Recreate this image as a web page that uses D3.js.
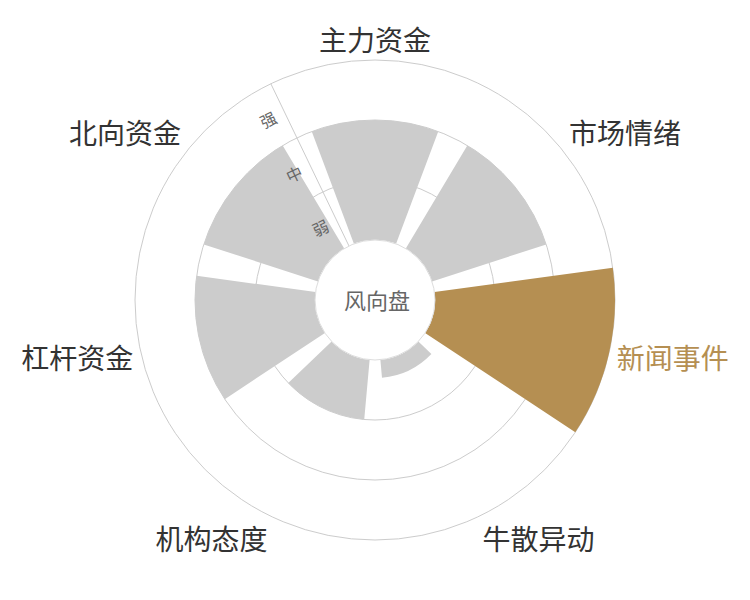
<!DOCTYPE html>
<html><head><meta charset="utf-8">
<script src="https://cdn.jsdelivr.net/npm/d3@7"></script>
<style>
body{margin:0;background:#fff;}
svg{display:block;}
text{font-family:"Noto Sans CJK SC","Noto Sans",sans-serif;}
</style>
</head><body>
<svg id="chart" width="750" height="600"></svg>
<script>
// ---- data ----
const categories = ["主力资金","市场情绪","新闻事件","牛散异动","机构态度","杠杆资金","北向资金"];
const values = [2, 2, 3, 0.3, 1, 2, 2];
const levels = ["弱","中","强"];
const highlight = "新闻事件";
const centerLabel = "风向盘";

// ---- layout ----
const cx = 375, cy = 300, r0 = 60, r1 = 240;
const n = categories.length;
const half = Math.PI / n;
const grey = "#cccccc", gold = "#b58f52";

const angle = d3.scaleBand().domain(categories)
  .range([-half, 2 * Math.PI - half]).paddingInner(0.2).paddingOuter(0.1);
const radius = d3.scaleLinear().domain([0, levels.length]).range([r0, r1]);
const levelBand = d3.scaleBand().domain(levels).range([r0, r1]);

const svg = d3.select("#chart");
const g = svg.append("g").attr("transform", `translate(${cx},${cy})`);

// grid circles
g.selectAll("circle.grid").data(d3.range(1, levels.length + 1)).join("circle")
  .attr("class", "grid").attr("r", d => radius(d))
  .attr("fill", "none").attr("stroke", "#cccccc").attr("stroke-width", 1);

// radius axis line
const ax = -half;
g.append("line")
  .attr("x1", r0 * Math.sin(ax)).attr("y1", -r0 * Math.cos(ax))
  .attr("x2", r1 * Math.sin(ax)).attr("y2", -r1 * Math.cos(ax))
  .attr("stroke", "#cccccc").attr("stroke-width", 1);

// bars
const arc = d3.arc();
const data = categories.map((c, i) => ({c, v: values[i]}));
g.selectAll("path.bar").data(data).join("path")
  .attr("class", "bar")
  .attr("d", d => arc({
    innerRadius: r0,
    outerRadius: radius(d.v),
    startAngle: angle(d.c),
    endAngle: angle(d.c) + angle.bandwidth()
  }))
  .attr("fill", d => d.c === highlight ? gold : grey);

// center circle
g.append("circle").attr("r", r0).attr("fill", "#fff").attr("stroke", "#dddddd").attr("stroke-width", 1);
g.append("text").attr("x", 2).attr("y", 1).attr("dy", "0.36em")
  .attr("text-anchor", "middle").attr("font-size", 22).attr("fill", "#666")
  .text(centerLabel);

// radius axis labels
const rl = g.append("g").attr("transform", `rotate(${ax * 180 / Math.PI})`);
rl.selectAll("text").data(levels).join("text")
  .attr("x", -18)
  .attr("y", d => -(levelBand(d) + levelBand.bandwidth() / 2) + 2)
  .attr("dy", "0.36em")
  .attr("text-anchor", "middle").attr("font-size", 16).attr("fill", "#666")
  .text(d => d);

// angle axis labels
const fs = 28, lr = r1 + 8;
g.selectAll("text.cat").data(data).join("text")
  .attr("class", "cat")
  .each(function(d) {
    const a = angle(d.c) + angle.bandwidth() / 2;
    const x = lr * Math.sin(a), y = -lr * Math.cos(a);
    const anchor = Math.abs(x) / r1 < 0.3 ? "middle" : (x > 0 ? "start" : "end");
    let by;
    if (Math.abs(y) / r1 < 0.3) by = y + 0.5 * fs;
    else if (y > 0) by = y + 0.95 * fs;
    else by = y - 1;
    d3.select(this).attr("x", x).attr("y", by).attr("text-anchor", anchor);
  })
  .attr("font-size", fs)
  .attr("fill", d => d.c === highlight ? gold : "#333")
  .text(d => d.c);
</script>
</body></html>
